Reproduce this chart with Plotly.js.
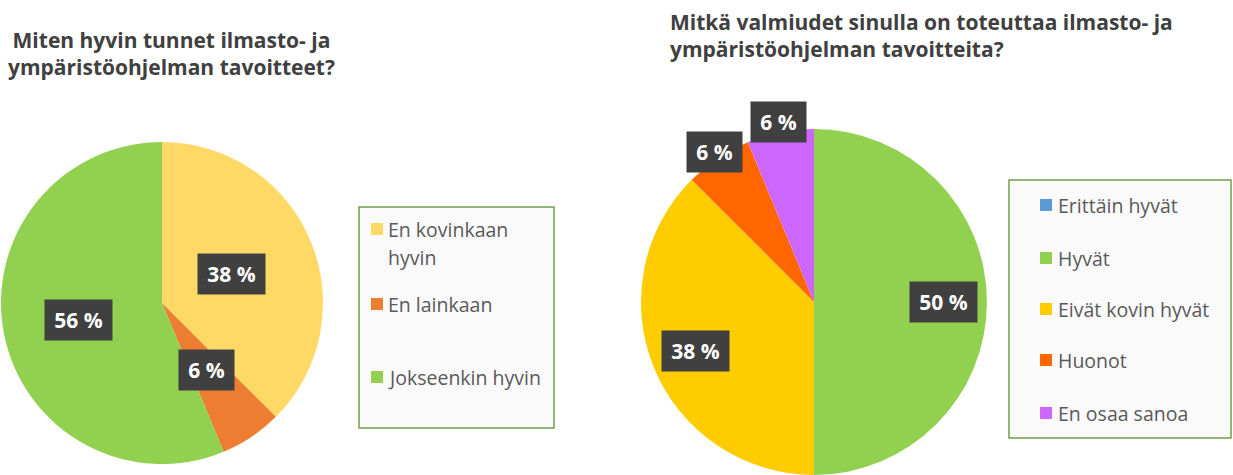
<!DOCTYPE html>
<html>
<head>
<meta charset="utf-8">
<script src="https://cdn.plot.ly/plotly-3.0.1.min.js"></script>
<style>
  html, body { margin: 0; padding: 0; background: #ffffff; }
  #chart { width: 1233px; height: 475px; }
</style>
</head>
<body>
<div id="chart"></div>
<script>
// ---------- DATA ----------
const leftTitle = 'Miten hyvin tunnet ilmasto- ja<br>ympäristöohjelman tavoitteet?';
const leftLabels = ['En kovinkaan hyvin', 'En lainkaan', 'Jokseenkin hyvin'];
const leftLegendLabels = ['En kovinkaan<br>hyvin', 'En lainkaan', 'Jokseenkin hyvin'];
const leftValues = [6, 1, 9];
const leftColors = ['#FFD966', '#ED7D31', '#92D050'];

const rightTitle = 'Mitkä valmiudet sinulla on toteuttaa ilmasto- ja<br>ympäristöohjelman tavoitteita?';
const rightLabels = ['Erittäin hyvät', 'Hyvät', 'Eivät kovin hyvät', 'Huonot', 'En osaa sanoa'];
const rightValues = [0, 8, 6, 1, 1];
const rightColors = ['#5B9BD5', '#92D050', '#FFCC00', '#FF6600', '#CC66FF'];

// ---------- LAYOUT HELPERS ----------
const W = 1233, H = 475;
const px = x => x / W;
const py = y => 1 - y / H;
const FONT = 'Open Sans, Noto Sans, sans-serif';

const leftPie = { x0: 1, x1: 323, y0: 142, y1: 464, labelR: [0.47, 0.5, 0.53] };
const rightPie = { x0: 641, x1: 987, y0: 129, y1: 475, labelR: [0.75, 0.75, 0.74, 1.04, 1.06] };

function pieTrace(labels, values, colors, box) {
  return {
    type: 'pie', labels: labels, values: values, sort: false,
    direction: 'clockwise', rotation: 0,
    marker: { colors: colors, line: { width: 0 } },
    textinfo: 'none', hoverinfo: 'label+percent', showlegend: false,
    domain: { x: [px(box.x0), px(box.x1)], y: [py(box.y1), py(box.y0)] }
  };
}

function pieLabels(values, box) {
  const total = values.reduce((a, b) => a + b, 0);
  const cx = (box.x0 + box.x1) / 2, cy = (box.y0 + box.y1) / 2;
  const r = Math.min(box.x1 - box.x0, box.y1 - box.y0) / 2;
  let cum = 0;
  const out = [];
  values.forEach((v, i) => {
    const f = v / total;
    const mid = (cum + f / 2) * 2 * Math.PI;
    cum += f;
    if (v === 0) return;
    const k = box.labelR[i];
    const x = cx + k * r * Math.sin(mid);
    const y = cy - k * r * Math.cos(mid);
    const txt = Math.round(f * 100) + ' %';
    out.push({
      x: px(x), y: py(y), xref: 'paper', yref: 'paper', showarrow: false,
      text: txt, xanchor: 'center', yanchor: 'middle',
      bgcolor: '#404040', width: txt.length > 3 ? 65 : 53, height: 38,
      font: { family: FONT, size: 21, color: '#ffffff', weight: 700 }
    });
  });
  return out;
}

function legendBlock(labels, colors, box, rowsY, shapes, annos) {
  shapes.push({
    type: 'rect', xref: 'paper', yref: 'paper', layer: 'above',
    x0: px(box.x0), x1: px(box.x1), y0: py(box.y1), y1: py(box.y0),
    line: { color: '#70A04A', width: 1.5 }, fillcolor: 'rgba(250,250,250,1)'
  });
  labels.forEach((lab, i) => {
    const yc = rowsY[i];
    shapes.push({
      type: 'rect', xref: 'paper', yref: 'paper', layer: 'above',
      x0: px(box.mx), x1: px(box.mx + 12), y0: py(yc + 6), y1: py(yc - 6),
      line: { width: 0 }, fillcolor: colors[i]
    });
    lab.split('<br>').forEach((line, j) => {
      annos.push({
        x: px(box.tx), y: py(yc + j * 28), xref: 'paper', yref: 'paper',
        showarrow: false, text: line, xanchor: 'left', yanchor: 'middle',
        font: { family: FONT, size: 19.5, color: '#595959' }
      });
    });
  });
}

const shapes = [];
const annotations = [];

annotations.push({
  x: px(171), y: py(24), xref: 'paper', yref: 'paper', showarrow: false,
  text: leftTitle, xanchor: 'center', yanchor: 'top', align: 'center',
  font: { family: FONT, size: 21, color: '#404040', weight: 700 }
});
annotations.push({
  x: px(668), y: py(6), xref: 'paper', yref: 'paper', showarrow: false,
  text: rightTitle, xanchor: 'left', yanchor: 'top', align: 'left',
  font: { family: FONT, size: 21, color: '#404040', weight: 700 }
});

legendBlock(leftLegendLabels, leftColors,
  { x0: 359, x1: 554, y0: 207, y1: 428, mx: 371, tx: 386 },
  [229, 304, 377], shapes, annotations);
legendBlock(rightLabels, rightColors,
  { x0: 1009, x1: 1231, y0: 180, y1: 438, mx: 1040, tx: 1056 },
  [205, 258, 309, 360, 413], shapes, annotations);

annotations.push(...pieLabels(leftValues, leftPie));
annotations.push(...pieLabels(rightValues, rightPie));

const data = [
  pieTrace(leftLabels, leftValues, leftColors, leftPie),
  pieTrace(rightLabels, rightValues, rightColors, rightPie)
];

const layout = {
  width: W, height: H,
  margin: { l: 0, r: 0, t: 0, b: 0, pad: 0 },
  paper_bgcolor: '#ffffff', plot_bgcolor: '#ffffff',
  showlegend: false,
  font: { family: FONT },
  shapes: shapes,
  annotations: annotations
};

Plotly.newPlot('chart', data, layout, { displayModeBar: false, staticPlot: true });
</script>
</body>
</html>
